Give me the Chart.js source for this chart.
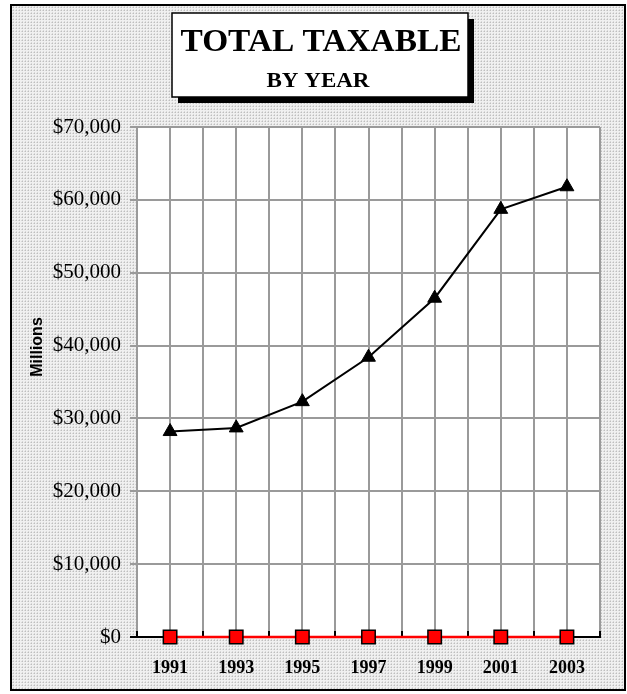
<!DOCTYPE html>
<html>
<head>
<meta charset="utf-8">
<script src="https://cdn.jsdelivr.net/npm/chart.js@4/dist/chart.umd.min.js"></script>
<style>
  html, body { margin: 0; padding: 0; background: #fff; }
  canvas { display: block; }
</style>
</head>
<body>
<canvas id="taxable" width="627" height="694"></canvas>
<script>
document.addEventListener('DOMContentLoaded', () => {

  // DATA
  const years = ['1991', '1993', '1995', '1997', '1999', '2001', '2003'];
  const taxableValues = [28200, 28700, 32300, 38400, 46500, 58700, 61800];
  const secondValues = [0, 0, 0, 0, 0, 0, 0];
  const yMin = 0;
  const yMax = 70000;
  const yStep = 10000;
  const titleLines = ['TOTAL TAXABLE', 'BY YEAR'];
  const yAxisLabel = 'Millions';

  const ctx = document.getElementById('taxable');
  const gridGray = '#9a9a9a';

  // little dotted fill used behind the plot
  function dotPattern(c2d) {
    const tile = document.createElement('canvas');
    tile.width = 3; tile.height = 3;
    const p = tile.getContext('2d');
    p.fillStyle = '#f0f0f0'; p.fillRect(0, 0, 3, 3);
    p.fillStyle = '#d8d8d8'; p.fillRect(0, 1, 1, 1); p.fillRect(1, 0, 1, 1);
    p.fillStyle = '#bebebe'; p.fillRect(1, 1, 1, 1);
    return c2d.createPattern(tile, 'repeat');
  }

  const backdrop = {
    id: 'backdrop',
    beforeDraw(chart) {
      const c = chart.ctx;
      const a = chart.chartArea;
      c.save();
      c.fillStyle = '#fff';
      c.fillRect(0, 0, chart.width, chart.height);
      c.fillStyle = dotPattern(c);
      c.fillRect(11, 5, 614, 685);
      c.fillStyle = '#fff';
      c.fillRect(a.left, a.top, a.right - a.left, a.bottom - a.top);
      c.restore();
    },
    afterDraw(chart) {
      const c = chart.ctx;
      c.save();
      c.strokeStyle = '#000';
      c.lineWidth = 2;
      c.strokeRect(11, 5, 614, 685);
      c.restore();
    }
  };

  // black marks where the category boundaries meet the x axis
  const axisMarks = {
    id: 'axisMarks',
    beforeDatasetsDraw(chart) {
      const c = chart.ctx;
      const x = chart.scales.x;
      const bottom = chart.chartArea.bottom;
      c.save();
      c.strokeStyle = '#000';
      c.lineWidth = 2;
      c.beginPath();
      for (let i = 0; i <= years.length; i++) {
        const px = Math.round(x.getPixelForValue(i - 0.5));
        c.moveTo(px, bottom - 6);
        c.lineTo(px, bottom);
      }
      c.stroke();
      c.restore();
    }
  };

  // boxed title with drop shadow, and the rotated axis caption
  const titleBox = {
    id: 'titleBox',
    afterDraw(chart) {
      const c = chart.ctx;
      c.save();
      c.fillStyle = '#000';
      c.fillRect(178, 19, 296, 84);
      c.fillStyle = '#fff';
      c.fillRect(172, 13, 296, 84);
      c.strokeStyle = '#000';
      c.lineWidth = 1.5;
      c.strokeRect(172, 13, 296, 84);

      const fitText = (text, font, cx, baseline, width) => {
        c.font = font;
        const w = c.measureText(text).width;
        c.save();
        c.translate(cx, baseline);
        c.scale(width / w, 1);
        c.textAlign = 'center';
        c.textBaseline = 'alphabetic';
        c.fillStyle = '#000';
        c.fillText(text, 0, 0);
        c.restore();
      };
      fitText(titleLines[0], 'bold 31px "Liberation Serif"', 321, 51, 281);
      fitText(titleLines[1], 'bold 20px "Liberation Serif"', 318, 87, 103);

      c.translate(38, 347);
      c.rotate(-Math.PI / 2);
      c.font = 'bold 16px "Liberation Sans"';
      c.textAlign = 'center';
      c.textBaseline = 'middle';
      c.fillStyle = '#000';
      c.fillText(yAxisLabel, 0, 0);
      c.restore();
    }
  };

  const data = {
    labels: years,
    datasets: [
      {
        label: 'Total Taxable',
        data: taxableValues,
        borderColor: '#000',
        backgroundColor: '#000',
        borderWidth: 2,
        pointStyle: 'triangle',
        pointRadius: 8,
        pointBorderWidth: 1,
        clip: false,
      },
      {
        label: 'Series 2',
        data: secondValues,
        borderColor: '#ff0000',
        backgroundColor: '#ff0000',
        borderWidth: 2.5,
        pointStyle: 'rect',
        pointRadius: 9.5,
        pointBorderColor: '#000',
        pointBorderWidth: 1.5,
        clip: false,
      },
    ]
  };

  const config = {
    type: 'line',
    data: data,
    options: {
      responsive: false,
      animation: false,
      layout: { padding: { top: 127, left: 0, right: 27, bottom: 0 } },
      plugins: {
        legend: { display: false },
        title: { display: false },
        tooltip: { enabled: false },
      },
      scales: {
        x: {
          type: 'category',
          offset: true,
          grid: { offset: true, color: gridGray, lineWidth: 2, drawTicks: false },
          border: { display: true, color: '#000', width: 2 },
          ticks: {
            color: '#000',
            padding: 21,
            maxRotation: 0,
            font: { family: 'Liberation Serif', size: 18, weight: 'bold' },
          },
          afterFit: scale => { scale.height = 57; },
        },
        x2: {
          type: 'category',
          position: 'top',
          offset: true,
          grid: { offset: false, color: gridGray, lineWidth: 2, drawTicks: false },
          border: { display: false },
          ticks: { display: false },
          afterFit: scale => { scale.height = 0; },
        },
        y: {
          min: yMin,
          max: yMax,
          ticks: {
            stepSize: yStep,
            color: '#000',
            padding: 9,
            font: { family: 'Liberation Serif', size: 21 },
            callback: v => '$' + v.toLocaleString('en-US'),
          },
          grid: {
            color: gridGray,
            lineWidth: 2,
            tickLength: 7,
            tickColor: c => (c.tick && c.tick.value === 0 ? '#000' : gridGray),
          },
          border: { display: false },
          afterFit: scale => { scale.width = 137; },
        },
      },
    },
    plugins: [backdrop, axisMarks, titleBox],
  };

  new Chart(ctx, config);

})
</script>
</body>
</html>
